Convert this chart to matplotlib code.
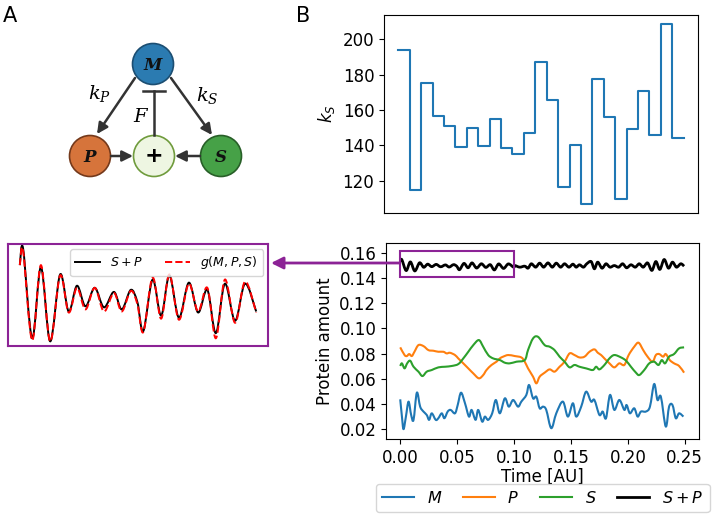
import numpy as np
import matplotlib.pyplot as plt
from matplotlib.patches import Circle, Rectangle, PathPatch
from matplotlib.path import Path

# ---- data ----
# k_S switching levels, one per 0.01 time interval
ks_levels = [193.7, 114.9, 175.0, 156.6, 150.9, 138.9, 149.9, 139.8, 154.7, 138.7,
             135.0, 147.2, 187.4, 165.7, 116.6, 140.0, 106.9, 177.5, 156.2, 109.9,
             149.3, 170.9, 145.9, 208.6, 144.4]
ks_times = np.linspace(0, 0.25, len(ks_levels) + 1)

# M (blue)
m_t = [0.0, 0.0015, 0.0029, 0.0050, 0.0073, 0.0096, 0.0117, 0.0146, 0.0175, 0.0204,
       0.0233, 0.0254, 0.0277, 0.0312, 0.0335, 0.0365, 0.0388, 0.0417, 0.0443, 0.0481,
       0.0505, 0.0534, 0.0569, 0.0604, 0.0627, 0.0662, 0.0685, 0.0720, 0.0744, 0.0773,
       0.0808, 0.0840, 0.0875, 0.0919, 0.0954, 0.0992, 0.1035, 0.1064, 0.1108, 0.1132,
       0.1167, 0.1196, 0.1225, 0.1254, 0.1283, 0.1327, 0.1371, 0.1429, 0.1473, 0.1517,
       0.1546, 0.1590, 0.1633, 0.1677, 0.1706, 0.1750, 0.1779, 0.1808, 0.1843, 0.1881,
       0.1925, 0.1969, 0.1989, 0.2018, 0.2056, 0.2086, 0.2115, 0.2158, 0.2194, 0.2231,
       0.2260, 0.2290, 0.2333, 0.2362, 0.2392, 0.2421, 0.2450, 0.2488]
m_v = [0.0437, 0.0300, 0.0200, 0.0300, 0.0419, 0.0313, 0.0274, 0.0490, 0.0379, 0.0340,
       0.0313, 0.0274, 0.0326, 0.0274, 0.0287, 0.0326, 0.0287, 0.0340, 0.0353, 0.0326,
       0.0392, 0.0490, 0.0406, 0.0300, 0.0353, 0.0274, 0.0353, 0.0260, 0.0300, 0.0274,
       0.0326, 0.0432, 0.0326, 0.0445, 0.0379, 0.0432, 0.0379, 0.0419, 0.0472, 0.0551,
       0.0445, 0.0458, 0.0366, 0.0379, 0.0353, 0.0208, 0.0326, 0.0419, 0.0300, 0.0406,
       0.0300, 0.0379, 0.0498, 0.0419, 0.0432, 0.0313, 0.0340, 0.0287, 0.0472, 0.0353,
       0.0432, 0.0353, 0.0392, 0.0326, 0.0366, 0.0300, 0.0340, 0.0340, 0.0379, 0.0559,
       0.0432, 0.0458, 0.0221, 0.0379, 0.0392, 0.0287, 0.0326, 0.0300]

# P (orange)
p_t = [0.0, 0.0038, 0.0058, 0.0079, 0.0102, 0.0125, 0.0160, 0.0204, 0.0248, 0.0292,
       0.0335, 0.0379, 0.0408, 0.0437, 0.0481, 0.0510, 0.0554, 0.0598, 0.0642, 0.0691,
       0.0729, 0.0758, 0.0802, 0.0846, 0.0875, 0.0904, 0.0948, 0.1006, 0.1064, 0.1094,
       0.1123, 0.1167, 0.1196, 0.1225, 0.1269, 0.1313, 0.1356, 0.1400, 0.1444, 0.1488,
       0.1531, 0.1575, 0.1619, 0.1663, 0.1706, 0.1736, 0.1765, 0.1794, 0.1838, 0.1881,
       0.1925, 0.1969, 0.2007, 0.2056, 0.2094, 0.2135, 0.2173, 0.2217, 0.2246, 0.2275,
       0.2310, 0.2333, 0.2368, 0.2406, 0.2450, 0.2494]
p_v = [0.0850, 0.0789, 0.0781, 0.0797, 0.0781, 0.0815, 0.0868, 0.0860, 0.0828, 0.0823,
       0.0815, 0.0815, 0.0802, 0.0807, 0.0789, 0.0762, 0.0723, 0.0683, 0.0643, 0.0604,
       0.0630, 0.0670, 0.0710, 0.0736, 0.0762, 0.0776, 0.0789, 0.0781, 0.0770, 0.0736,
       0.0683, 0.0617, 0.0564, 0.0617, 0.0649, 0.0675, 0.0657, 0.0696, 0.0736, 0.0802,
       0.0789, 0.0770, 0.0776, 0.0815, 0.0834, 0.0807, 0.0789, 0.0762, 0.0723, 0.0691,
       0.0723, 0.0710, 0.0789, 0.0855, 0.0887, 0.0828, 0.0776, 0.0736, 0.0789, 0.0797,
       0.0776, 0.0797, 0.0749, 0.0723, 0.0702, 0.0649]

# S (green)
s_t = [0.0, 0.0015, 0.0038, 0.0061, 0.0087, 0.0117, 0.0160, 0.0195, 0.0233, 0.0277,
       0.0335, 0.0394, 0.0452, 0.0510, 0.0554, 0.0598, 0.0642, 0.0691, 0.0729, 0.0773,
       0.0817, 0.0875, 0.0919, 0.0962, 0.1021, 0.1094, 0.1123, 0.1167, 0.1210, 0.1269,
       0.1313, 0.1356, 0.1400, 0.1444, 0.1488, 0.1531, 0.1575, 0.1633, 0.1692, 0.1721,
       0.1750, 0.1794, 0.1838, 0.1881, 0.1940, 0.1984, 0.2027, 0.2071, 0.2100, 0.2144,
       0.2188, 0.2231, 0.2269, 0.2298, 0.2327, 0.2362, 0.2406, 0.2450, 0.2494]
s_v = [0.0702, 0.0723, 0.0683, 0.0723, 0.0744, 0.0696, 0.0657, 0.0622, 0.0657, 0.0670,
       0.0691, 0.0696, 0.0702, 0.0717, 0.0762, 0.0815, 0.0868, 0.0908, 0.0855, 0.0789,
       0.0762, 0.0749, 0.0728, 0.0723, 0.0736, 0.0749, 0.0829, 0.0921, 0.0934, 0.0868,
       0.0855, 0.0828, 0.0776, 0.0736, 0.0691, 0.0710, 0.0696, 0.0683, 0.0670, 0.0696,
       0.0675, 0.0710, 0.0762, 0.0789, 0.0770, 0.0744, 0.0696, 0.0649, 0.0630, 0.0670,
       0.0723, 0.0736, 0.0710, 0.0749, 0.0723, 0.0776, 0.0797, 0.0842, 0.0850]

# S+P (black) and the fit g(M,P,S), first 0.1 time units (zoomed inset)
zoom_t = [0.0, 0.0014, 0.0052, 0.0089, 0.0128, 0.0170, 0.0206, 0.0241, 0.0277, 0.0316,
          0.0355, 0.0397, 0.0430, 0.0468, 0.0496, 0.0521, 0.0560, 0.0596, 0.0631, 0.0671,
          0.0713, 0.0752, 0.0791, 0.0827, 0.0865, 0.0908, 0.0950, 0.0997]
zoom_sp = [0.1531, 0.1547, 0.1460, 0.1529, 0.1457, 0.1522, 0.1486, 0.1511, 0.1491, 0.1509,
           0.1490, 0.1505, 0.1488, 0.1507, 0.1495, 0.1467, 0.1517, 0.1482, 0.1521, 0.1480,
           0.1514, 0.1485, 0.1507, 0.1465, 0.1513, 0.1477, 0.1513, 0.1486]
zoom_g = [0.1531, 0.1545, 0.1458, 0.1531, 0.1457, 0.1521, 0.1485, 0.1509, 0.1488, 0.1509,
          0.1486, 0.1504, 0.1486, 0.1506, 0.1493, 0.1466, 0.1519, 0.1479, 0.1522, 0.1478,
          0.1513, 0.1486, 0.1509, 0.1460, 0.1517, 0.1475, 0.1515, 0.1485]

# S+P after t = 0.1
sp_t_rest = [0.1006, 0.1050, 0.1094, 0.1123, 0.1152, 0.1190, 0.1225, 0.1260, 0.1298, 0.1336,
             0.1371, 0.1409, 0.1444, 0.1482, 0.1517, 0.1546, 0.1575, 0.1610, 0.1639, 0.1677,
             0.1706, 0.1735, 0.1773, 0.1808, 0.1843, 0.1881, 0.1919, 0.1954, 0.1989, 0.2027,
             0.2065, 0.2100, 0.2135, 0.2173, 0.2211, 0.2246, 0.2281, 0.2319, 0.2357, 0.2392,
             0.2427, 0.2465, 0.2494]
sp_v_rest = [0.1500, 0.1487, 0.1495, 0.1479, 0.1514, 0.1487, 0.1519, 0.1487, 0.1521, 0.1487,
             0.1519, 0.1487, 0.1514, 0.1487, 0.1511, 0.1487, 0.1506, 0.1487, 0.1514, 0.1532,
             0.1474, 0.1527, 0.1479, 0.1514, 0.1487, 0.1500, 0.1487, 0.1514, 0.1482, 0.1506,
             0.1487, 0.1514, 0.1487, 0.1521, 0.1461, 0.1532, 0.1469, 0.1548, 0.1479, 0.1527,
             0.1487, 0.1514, 0.1495]

purple = '#8c2396'
W, H = 712, 515


def smooth_line(ax, x, y, color, lw, ls='-', label=None):
    # draw the read points joined by smooth (Catmull-Rom) bezier segments
    pts = np.column_stack([x, y])
    ext = np.vstack([pts[0], pts, pts[-1]])
    verts = [pts[0]]
    codes = [Path.MOVETO]
    for i in range(len(pts) - 1):
        p0, p1, p2, p3 = ext[i], ext[i + 1], ext[i + 2], ext[i + 3]
        verts += [p1 + (p2 - p0) / 6, p2 - (p3 - p1) / 6, p2]
        codes += [Path.CURVE4] * 3
    ax.add_patch(PathPatch(Path(verts, codes), fill=False, ec=color, lw=lw,
                           ls=ls, joinstyle='round', capstyle='butt'))
    ax.plot([], [], color=color, lw=lw, ls=ls, label=label)


fig = plt.figure(figsize=(7.12, 5.15), dpi=100)

# B top: k_S
ax1 = fig.add_axes([384 / W, 1 - 213 / H, 314 / W, 198 / H])
ax1.step(ks_times, ks_levels + [ks_levels[-1]], where='post', color='C0', lw=1.5)
ax1.set_xlim(-0.0125, 0.2625)
ax1.set_xticks([])
ax1.set_yticks([120, 140, 160, 180, 200])
ax1.set_ylabel('$k_S$', fontsize=12)
ax1.tick_params(labelsize=12)

# B bottom: protein amounts
ax2 = fig.add_axes([386 / W, 1 - 439 / H, 313 / W, 196 / H])
smooth_line(ax2, m_t, m_v, 'C0', 1.5, label='$M$')
smooth_line(ax2, p_t, p_v, 'C1', 1.5, label='$P$')
smooth_line(ax2, s_t, s_v, 'C2', 1.5, label='$S$')
smooth_line(ax2, zoom_t + sp_t_rest, zoom_sp + sp_v_rest, 'black', 2, label='$S+P$')
ax2.add_patch(Rectangle((0, 0.1405), 0.1, 0.0207, fill=False, ec=purple, lw=1.5))
ax2.set_xlim(-0.0125, 0.2625)
ax2.set_ylim(0.0122, 0.1679)
ax2.set_xticks([0, 0.05, 0.10, 0.15, 0.20, 0.25])
ax2.set_yticks([0.02, 0.04, 0.06, 0.08, 0.10, 0.12, 0.14, 0.16])
ax2.xaxis.set_major_formatter(plt.FormatStrFormatter('%.2f'))
ax2.yaxis.set_major_formatter(plt.FormatStrFormatter('%.2f'))
ax2.tick_params(labelsize=12)
ax2.set_xlabel('Time [AU]', fontsize=12, labelpad=1)
ax2.set_ylabel('Protein amount', fontsize=12)
fig.legend(*ax2.get_legend_handles_labels(), loc='lower center', ncol=4,
           bbox_to_anchor=(0.762, 0.005), borderaxespad=0, fontsize=11.5,
           columnspacing=1.3, handlelength=2.0)

# zoomed inset of S+P vs fit
ax3 = fig.add_axes([8 / W, 1 - 346 / H, 260 / W, 102 / H])
smooth_line(ax3, zoom_t, zoom_sp, 'black', 1.4, label='$S+P$')
smooth_line(ax3, zoom_t, zoom_g, 'red', 1.4, ls='--', label='$g(M,P,S)$')
lo = min(min(zoom_sp), min(zoom_g))
hi = max(max(zoom_sp), max(zoom_g))
ax3.set_xlim(-0.05 * zoom_t[-1], 1.05 * zoom_t[-1])
ax3.set_ylim(lo - 0.05 * (hi - lo), hi + 0.05 * (hi - lo))
ax3.set_xticks([])
ax3.set_yticks([])
for sp in ax3.spines.values():
    sp.set_color(purple)
    sp.set_linewidth(1.5)
ax3.legend(loc='upper right', ncol=2, fontsize=9, columnspacing=1.8,
           borderaxespad=0.4)

# A: network diagram, drawn in pixel coords
ax0 = fig.add_axes([0, 0, 1, 1])
ax0.set_xlim(0, W)
ax0.set_ylim(H, 0)
ax0.axis('off')

nodes = [('M', 153, 64, '#2b7bb1', '#1c4e72'),
         ('P', 90, 156, '#d6743b', '#74391b'),
         ('+', 154, 156, '#eef6e2', '#6f9b3c'),
         ('S', 221, 156, '#46a147', '#285f28')]
for name, x, y, fc, ec in nodes:
    ax0.add_patch(Circle((x, y), 20.5, fc=fc, ec=ec, lw=1.2))
    if name == '+':
        ax0.text(x, y, '+', ha='center', va='center', fontsize=16,
                 fontweight='bold', color='black')
    else:
        ax0.text(x, y + 1, name, ha='center', va='center', fontsize=12,
                 family='DejaVu Serif', style='italic', fontweight='bold',
                 color='#111111')

arr = dict(arrowstyle='-|>', color='#333333', lw=1.8, mutation_scale=16,
           shrinkA=0, shrinkB=0)
ax0.annotate('', xy=(97, 134), xytext=(135, 78), arrowprops=arr)
ax0.annotate('', xy=(212, 135), xytext=(171, 78), arrowprops=arr)
ax0.annotate('', xy=(133, 156), xytext=(111, 156), arrowprops=arr)
ax0.annotate('', xy=(175, 156), xytext=(200, 156), arrowprops=arr)
ax0.plot([154, 154], [135, 91], color='#333333', lw=1.8)
ax0.plot([143, 165], [91, 91], color='#333333', lw=1.8)
ax0.text(100, 93, '$k_P$', ha='center', va='center', fontsize=14,
         math_fontfamily='dejavuserif')
ax0.text(207, 95, '$k_S$', ha='center', va='center', fontsize=14,
         math_fontfamily='dejavuserif')
ax0.text(141, 116, '$F$', ha='center', va='center', fontsize=14,
         math_fontfamily='dejavuserif')

ax0.text(3, 22, 'A', fontsize=15)
ax0.text(296, 22, 'B', fontsize=15)

# arrow from the boxed region to the inset
ax0.annotate('', xy=(271, 263), xytext=(399, 263),
             arrowprops=dict(arrowstyle='-|>', color=purple, lw=2,
                             mutation_scale=18, shrinkA=0, shrinkB=0))

fig.savefig('out.png', dpi=100)
